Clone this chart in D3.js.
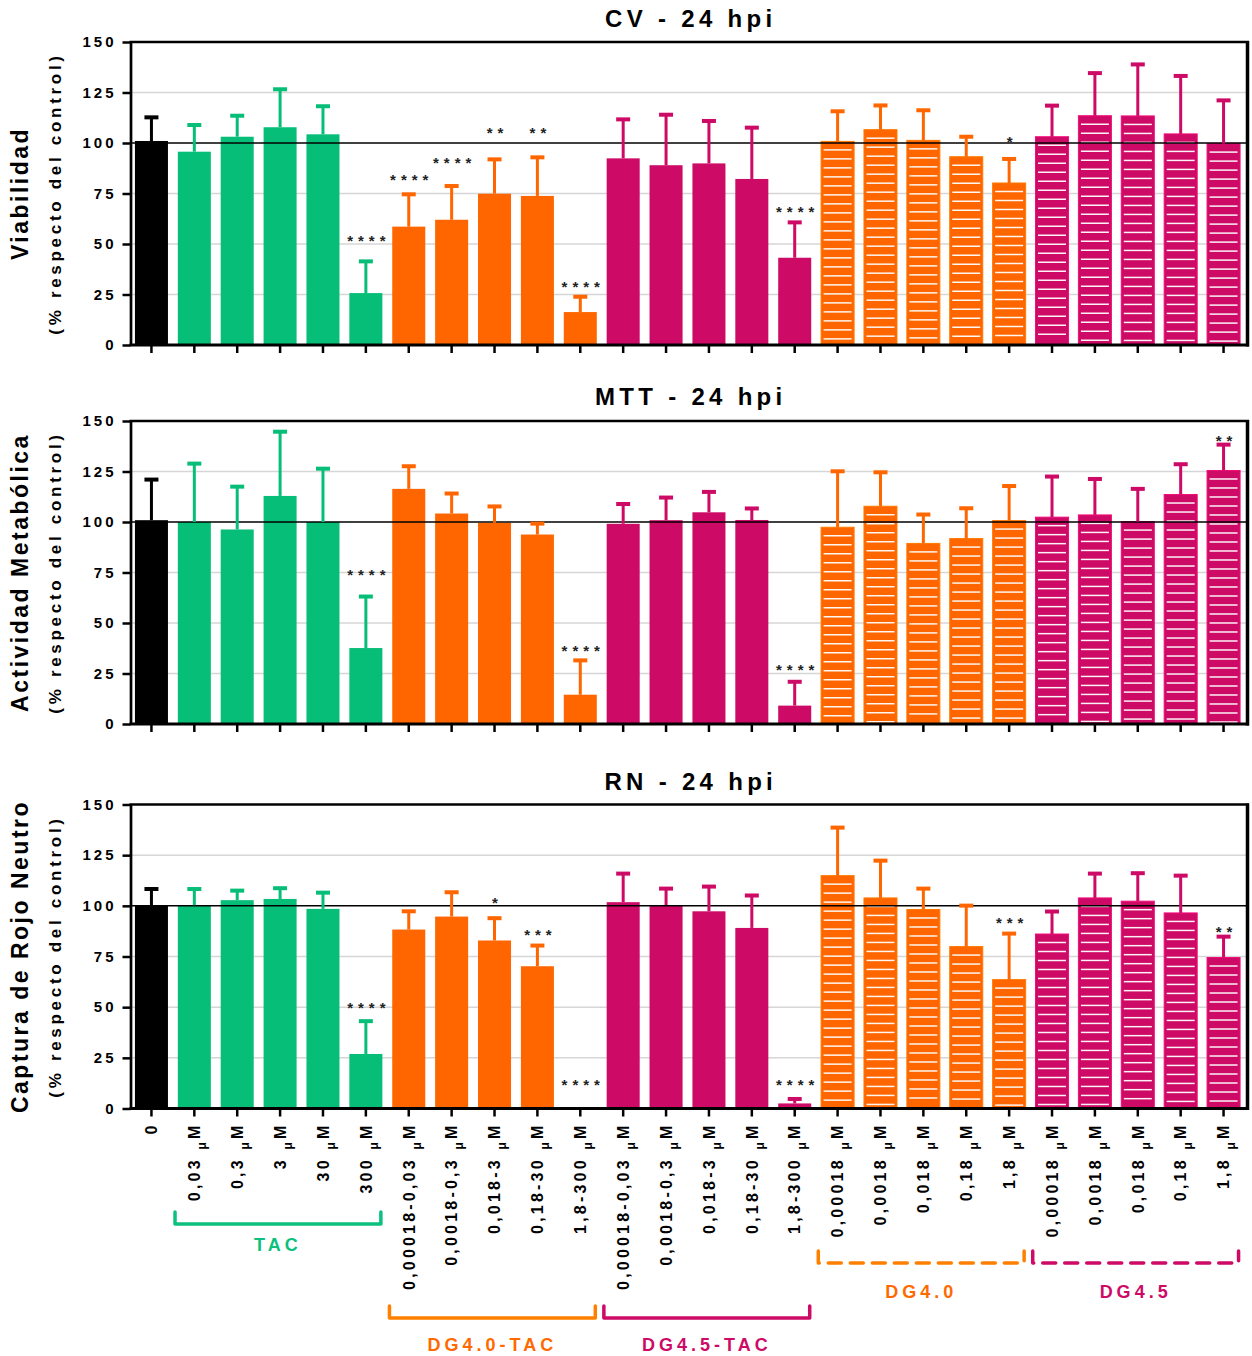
<!DOCTYPE html>
<html><head><meta charset="utf-8">
<script src="https://cdn.jsdelivr.net/npm/d3@7"></script>
<style>
body{margin:0;background:#fff}
svg{display:block}
text{font-family:"Liberation Sans",Arial,Helvetica,sans-serif;font-weight:bold}
</style>
</head><body>
<svg id="c" width="1252" height="1356"></svg>
<script>
// ---------- DATA ----------
const categories = ["0","0,03 μM","0,3 μM","3 μM","30 μM","300 μM",
  "0,00018-0,03 μM","0,0018-0,3 μM","0,018-3 μM","0,18-30 μM","1,8-300 μM",
  "0,00018-0,03 μM","0,0018-0,3 μM","0,018-3 μM","0,18-30 μM","1,8-300 μM",
  "0,00018 μM","0,0018 μM","0,018 μM","0,18 μM","1,8 μM",
  "0,00018 μM","0,0018 μM","0,018 μM","0,18 μM","1,8 μM"];
const groups = ["control","TAC","TAC","TAC","TAC","TAC",
  "DG4.0-TAC","DG4.0-TAC","DG4.0-TAC","DG4.0-TAC","DG4.0-TAC",
  "DG4.5-TAC","DG4.5-TAC","DG4.5-TAC","DG4.5-TAC","DG4.5-TAC",
  "DG4.0","DG4.0","DG4.0","DG4.0","DG4.0",
  "DG4.5","DG4.5","DG4.5","DG4.5","DG4.5"];
const yTicks = [0,25,50,75,100,125,150];

const cvMean = [101,95.7,103.1,107.8,104.3,25.7,58.6,62.0,74.9,73.8,16.3,92.4,89.0,89.9,82.2,43.2,100.8,106.6,101.3,93.2,80.2,103.1,113.5,113.4,104.5,99.7];
const cvSD   = [11.7,13.2,10.4,18.8,13.9,15.7,16.0,16.7,17.0,19.1,7.6,19.3,25.0,21.0,25.4,17.5,14.9,12.0,14.9,9.9,11.9,15.4,21.1,25.5,28.7,21.4];
const cvStars = [{i:5,s:"****",at:52.8},{i:6,s:"****",at:83.3},{i:7,s:"****",at:91.4},{i:8,s:"**",at:106.3},{i:9,s:"**",at:106.3},{i:10,s:"****",at:30.3},{i:15,s:"****",at:67.2},{i:20,s:"*",at:101.8}];

const mttMean = [100.9,100,96.3,112.9,100,37.6,116.4,104.2,99.6,93.8,14.5,99.1,100.9,104.8,101.0,9.1,97.4,107.8,89.4,91.8,100.7,102.4,103.5,100.2,113.6,125.5];
const mttSD   = [20.1,28.9,21.2,31.8,26.4,25.5,11.2,9.9,8.1,5.4,17.0,9.8,11.2,10.1,5.7,11.8,27.7,16.8,14.3,15.0,17.1,20.1,17.8,16.2,15.0,12.8];
const mttStars = [{i:5,s:"****",at:75.3},{i:10,s:"****",at:37.4},{i:15,s:"****",at:28.3},{i:25,s:"**",at:141.8}];

const rnMean = [100.4,100.3,102.8,103.4,98.5,26.9,88.3,94.7,82.9,70.2,0,101.8,100.4,97.3,89.1,2.5,114.9,103.9,98.2,79.9,63.6,86.1,103.9,102.3,96.5,74.5];
const rnSD   = [7.9,8.0,4.7,5.3,8.0,16.2,9.0,12.0,11.0,10.2,0,14.1,8.1,12.2,16.0,2.2,23.7,18.4,10.3,20.2,22.7,11.1,12.0,13.8,18.4,10.3];
const rnStars = [{i:5,s:"****",at:51.3},{i:8,s:"*",at:103.1},{i:9,s:"***",at:87.1},{i:10,s:"****",at:13.1},{i:15,s:"****",at:13.1},{i:20,s:"***",at:92.9},{i:25,s:"**",at:88.8}];

const brackets = [
  {name:"TAC", from:1, to:5, level:0, dashed:false},
  {name:"DG4.0-TAC", from:6, to:10, level:2, dashed:false},
  {name:"DG4.5-TAC", from:11, to:15, level:2, dashed:false},
  {name:"DG4.0", from:16, to:20, level:1, dashed:true},
  {name:"DG4.5", from:21, to:25, level:1, dashed:true}
];

// ---------- STYLE ----------
const groupColor = {"control":"#000000","TAC":"#07BE78","DG4.0-TAC":"#FF6600","DG4.5-TAC":"#CD0A66","DG4.0":"#FF6600","DG4.5":"#CD0A66"};
const groupHatch = {"DG4.0":true,"DG4.5":true};
const bracketColor = {"TAC":"#0CC07E","DG4.0-TAC":"#FF8000","DG4.5-TAC":"#CD0A66","DG4.0":"#FF8000","DG4.5":"#CD0A66"};
const bracketTextColor = {"TAC":"#0CC07E","DG4.0-TAC":"#FF6A00","DG4.5-TAC":"#CD0A66","DG4.0":"#FF6A00","DG4.5":"#CD0A66"};
const bracketY = [1224, 1263, 1318];
const bracketLabelY = [1245, 1292, 1345];

const panels = [
  {title:"CV - 24 hpi", ytitle:"Viabilidad", mean:cvMean, sd:cvSD, stars:cvStars, top:42, bottom:345, titleY:27},
  {title:"MTT - 24 hpi", ytitle:"Actividad Metabólica", mean:mttMean, sd:mttSD, stars:mttStars, top:421, bottom:724, titleY:405},
  {title:"RN - 24 hpi", ytitle:"Captura de Rojo Neutro", mean:rnMean, sd:rnSD, stars:rnStars, top:804.5, bottom:1108.5, titleY:790}
];

const X0 = 130.5, X1 = 1247;
const svg = d3.select("#c");
const x = d3.scaleBand().domain(d3.range(categories.length)).range([130,1245]).paddingInner(0.23).paddingOuter(0.115);
const bw = x.bandwidth();

panels.forEach((p, pi) => {
  const y = d3.scaleLinear().domain([0,150]).range([p.bottom, p.top]);
  const g = svg.append("g");

  // gridlines
  g.selectAll("line.grid").data(yTicks.filter(t => t>0 && t<150 && t!==100)).join("line")
    .attr("class","grid").attr("x1",X0).attr("x2",X1).attr("y1",d=>y(d)).attr("y2",d=>y(d))
    .attr("stroke","#d6d6d6").attr("stroke-width",1.5);

  const data = categories.map((c,i)=>({i, g:groups[i], m:p.mean[i], sd:p.sd[i]}));

  // bars
  g.selectAll("rect.bar").data(data.filter(d=>d.m>0)).join("rect").attr("class","bar")
    .attr("x",d=>x(d.i)).attr("width",bw)
    .attr("y",d=>y(d.m)).attr("height",d=>y(0)-y(d.m))
    .attr("fill",d=>groupColor[d.g])
    .attr("stroke",d=>groupHatch[d.g] ? d3.color(groupColor[d.g]).brighter(0.5) : "none")
    .attr("stroke-width",1);

  // hatch lines
  data.filter(d=>groupHatch[d.g] && d.m>0).forEach(d=>{
    const ys = d3.range(y(d.m)+8.5, y(0)-2, 9);
    g.selectAll(null).data(ys).join("line")
      .attr("x1",x(d.i)+2.5).attr("x2",x(d.i)+bw-2.5)
      .attr("y1",v=>v).attr("y2",v=>v)
      .attr("stroke","#ffffff").attr("stroke-width",1.5).attr("opacity",0.95);
  });

  // reference line at 100
  g.append("line").attr("x1",X0).attr("x2",X1).attr("y1",y(100)).attr("y2",y(100))
    .attr("stroke","#000").attr("stroke-width",1.5);

  // error bars (upper only)
  const eb = data.filter(d=>d.sd>0);
  g.selectAll("line.stem").data(eb).join("line").attr("class","stem")
    .attr("x1",d=>x(d.i)+bw/2).attr("x2",d=>x(d.i)+bw/2)
    .attr("y1",d=>y(d.m)).attr("y2",d=>y(d.m+d.sd))
    .attr("stroke",d=>groupColor[d.g]).attr("stroke-width",3);
  g.selectAll("rect.cap").data(eb).join("rect").attr("class","cap")
    .attr("x",d=>x(d.i)+bw/2-7).attr("width",14)
    .attr("y",d=>y(d.m+d.sd)-2).attr("height",4)
    .attr("fill",d=>groupColor[d.g]);

  // axes
  const ya = d3.axisLeft(y).tickValues(yTicks).tickSize(8).tickSizeOuter(0).tickPadding(6);
  const yg = g.append("g").attr("transform",`translate(${X0},0)`).call(ya);
  yg.select(".domain").attr("stroke-width",2.7);
  yg.selectAll(".tick line").attr("stroke-width",2.5);
  yg.selectAll(".tick text").attr("font-size",15).attr("letter-spacing","3px")
    .attr("font-family",'"Liberation Sans",Arial,sans-serif').attr("font-weight","bold").attr("fill","#000");

  const xa = d3.axisBottom(x).tickSize(8).tickSizeOuter(0).tickFormat("");
  const xg = g.append("g").attr("transform",`translate(0,${p.bottom})`).call(xa);
  xg.select(".domain").remove();
  xg.selectAll(".tick line").attr("stroke-width",2.5);

  // frame
  g.append("line").attr("x1",X0-1).attr("x2",X1+2).attr("y1",p.bottom).attr("y2",p.bottom).attr("stroke","#000").attr("stroke-width",3);
  g.append("line").attr("x1",X0-1).attr("x2",X1+2).attr("y1",p.top).attr("y2",p.top).attr("stroke","#000").attr("stroke-width",2.5);
  g.append("line").attr("x1",X1+0.5).attr("x2",X1+0.5).attr("y1",p.top-1).attr("y2",p.bottom+1.5).attr("stroke","#000").attr("stroke-width",3.5);

  // title
  g.append("text").attr("x",(X0+X1)/2+2).attr("y",p.titleY).attr("text-anchor","middle")
    .attr("font-size",24).attr("letter-spacing","4.3px").text(p.title);

  // y titles
  const cy = (p.top+p.bottom)/2;
  g.append("text").attr("transform",`translate(20,${cy}) rotate(-90)`).attr("dy","0.35em")
    .attr("text-anchor","middle").attr("font-size",23).attr("letter-spacing","2.5px").text(p.ytitle);
  g.append("text").attr("transform",`translate(55,${cy}) rotate(-90)`).attr("dy","0.35em")
    .attr("text-anchor","middle").attr("font-size",17).attr("letter-spacing","3.7px").text("(% respecto del control)");

  // significance stars
  g.selectAll("text.star").data(p.stars).join("text").attr("class","star")
    .attr("x",d=>x(d.i)+bw/2+3).attr("y",d=>y(d.at)+8)
    .attr("text-anchor","middle").attr("font-size",15).attr("font-weight","normal")
    .attr("letter-spacing","5px").attr("fill","#222").text(d=>d.s);

  // category labels on bottom panel only
  if (pi === panels.length-1) {
    const lab = g.selectAll("text.cat").data(categories).join("text").attr("class","cat")
      .attr("transform",(d,i)=>`translate(${x(i)+bw/2},${p.bottom+14}) rotate(-90)`)
      .attr("text-anchor","end").attr("dy","0.36em")
      .attr("font-size",16).attr("letter-spacing","3.2px").attr("fill","#000");
    lab.each(function(d){
      const t = d3.select(this);
      const m = d.match(/^(.*) μM$/);
      if (m) {
        t.append("tspan").text(m[1]+" ");
        t.append("tspan").attr("font-size",12).attr("dy",6).text("μ");
        t.append("tspan").attr("dy",-6).text("M");
      } else {
        t.text(d);
      }
    });
  }
});

// group brackets
const step = x.step();
brackets.forEach(b=>{
  const x0 = x(b.from)+bw/2 - 0.45*step;
  const x1 = x(b.to)+bw/2 + 0.35*step;
  const yb = bracketY[b.level];
  svg.append("path").attr("d",`M${x0},${yb-12}L${x0},${yb}L${x1},${yb}L${x1},${yb-12}`)
    .attr("fill","none").attr("stroke",bracketColor[b.name]).attr("stroke-width",3.5)
    .attr("stroke-linejoin","round").attr("stroke-linecap","round")
    .attr("stroke-dasharray",b.dashed ? "13,9" : null);
  svg.append("text").attr("x",(x0+x1)/2).attr("y",bracketLabelY[b.level]).attr("dy","0.36em")
    .attr("text-anchor","middle").attr("font-size",18).attr("letter-spacing","4px")
    .attr("fill",bracketTextColor[b.name]).text(b.name);
});
</script>
</body></html>
